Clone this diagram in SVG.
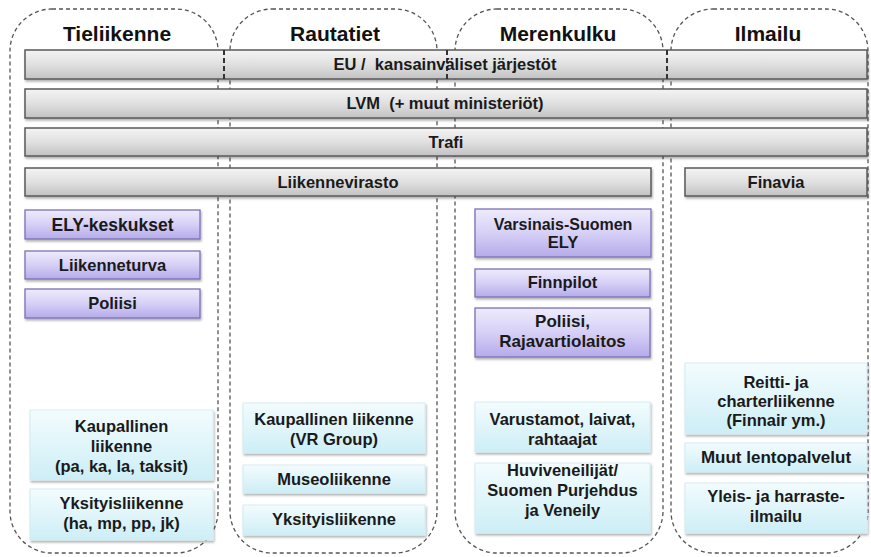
<svg xmlns="http://www.w3.org/2000/svg" width="871" height="557" viewBox="0 0 871 557">
<defs>
  <linearGradient id="gGray" x1="0" y1="0" x2="0" y2="1">
    <stop offset="0" stop-color="#f4f4f4"/>
    <stop offset="0.5" stop-color="#e0e0e0"/>
    <stop offset="1" stop-color="#c2c2c2"/>
  </linearGradient>
  <linearGradient id="gPurple" x1="0" y1="0" x2="0" y2="1">
    <stop offset="0" stop-color="#eeebfc"/>
    <stop offset="0.5" stop-color="#d6d0f6"/>
    <stop offset="1" stop-color="#b5abea"/>
  </linearGradient>
  <linearGradient id="gCyan" x1="0" y1="0" x2="0" y2="1">
    <stop offset="0" stop-color="#f3fcfe"/>
    <stop offset="1" stop-color="#cdeef6"/>
  </linearGradient>
  <filter id="sh" x="-5%" y="-20%" width="110%" height="150%">
    <feDropShadow dx="1" dy="2" stdDeviation="1.2" flood-color="#000" flood-opacity="0.3"/>
  </filter>
</defs>
<style>
  .col { fill: none; stroke: #555; stroke-width: 1.3; stroke-dasharray: 4 3; }
  .bar { fill: url(#gGray); stroke: #585858; stroke-width: 1.5; filter: url(#sh); }
  .pur { fill: url(#gPurple); stroke: #7a70b4; stroke-width: 1.3; filter: url(#sh); }
  .cya { fill: url(#gCyan); stroke: #d4edf2; stroke-width: 1; filter: url(#sh); }
  .hd { font-family: "Liberation Sans", Arial, sans-serif; font-weight: bold; font-size: 21px; fill: #111; text-anchor: middle; }
  .bt { font-family: "Liberation Sans", Arial, sans-serif; font-weight: bold; font-size: 16.5px; fill: #1a1a1a; text-anchor: middle; white-space: pre; }
  .t { font-family: "Liberation Sans", Arial, sans-serif; font-weight: bold; font-size: 16.5px; fill: #1a1a1a; text-anchor: middle; }
  .mark { stroke: #333; stroke-width: 2; stroke-dasharray: 5 3; fill: none; }
</style>
<rect width="871" height="557" fill="#fff"/>

<g id="columns">
  <g id="col-tieliikenne">
    <rect class="col" x="10" y="9" width="208" height="544" rx="42" ry="42"/>
    <text class="hd" x="117" y="41">Tieliikenne</text>
  </g>
  <g id="col-rautatiet">
    <rect class="col" x="230" y="9" width="207" height="544" rx="42" ry="42"/>
    <text class="hd" x="335" y="41">Rautatiet</text>
  </g>
  <g id="col-merenkulku">
    <rect class="col" x="455" y="9" width="208" height="544" rx="42" ry="42"/>
    <text class="hd" x="558" y="41">Merenkulku</text>
  </g>
  <g id="col-ilmailu">
    <rect class="col" x="671" y="9" width="197" height="544" rx="42" ry="42"/>
    <text class="hd" x="768" y="41">Ilmailu</text>
  </g>
</g>

<g id="bar-eu">
  <rect class="bar" x="25" y="50" width="842" height="29"/>
  <path class="mark" d="M224 50V79 M447 50V79 M667 50V79"/>
  <text class="bt" x="445" y="70" xml:space="preserve">EU /  kansainväliset järjestöt</text>
</g>
<g id="bar-lvm">
  <rect class="bar" x="25" y="89" width="842" height="29"/>
  <text class="bt" x="445" y="109" xml:space="preserve">LVM  (+ muut ministeriöt)</text>
</g>
<g id="bar-trafi">
  <rect class="bar" x="25" y="128" width="842" height="28"/>
  <text class="bt" x="446" y="148">Trafi</text>
</g>
<g id="bar-liikennevirasto">
  <rect class="bar" x="25" y="168" width="626" height="28"/>
  <text class="bt" x="338" y="188">Liikennevirasto</text>
</g>
<g id="bar-finavia">
  <rect class="bar" x="685" y="168" width="182" height="28"/>
  <text class="bt" x="776" y="188">Finavia</text>
</g>

<g id="ely-keskukset">
  <rect class="pur" x="25" y="210" width="175" height="29"/>
  <text class="t" x="112.5" y="231" style="font-size:17.5px">ELY-keskukset</text>
</g>
<g id="liikenneturva">
  <rect class="pur" x="25" y="251" width="175" height="28"/>
  <text class="t" x="112.5" y="271">Liikenneturva</text>
</g>
<g id="poliisi-1">
  <rect class="pur" x="25" y="289" width="175" height="29"/>
  <text class="t" x="112.5" y="309">Poliisi</text>
</g>

<g id="varsinais-suomen-ely">
  <rect class="pur" x="475" y="209" width="176" height="48"/>
  <text class="t" x="563" y="230" style="font-size:16px">Varsinais-Suomen</text>
  <text class="t" x="563" y="248">ELY</text>
</g>
<g id="finnpilot">
  <rect class="pur" x="475" y="269" width="175" height="28"/>
  <text class="t" x="562.5" y="288">Finnpilot</text>
</g>
<g id="poliisi-raja">
  <rect class="pur" x="475" y="308" width="175" height="49"/>
  <text class="t" x="562.5" y="327" style="font-size:17px">Poliisi,</text>
  <text class="t" x="562.5" y="347" style="font-size:17px">Rajavartiolaitos</text>
</g>

<g id="kaupallinen-tie">
  <rect class="cya" x="30" y="410" width="183" height="70"/>
  <text class="t" x="121.5" y="432">Kaupallinen</text>
  <text class="t" x="121.5" y="452">liikenne</text>
  <text class="t" x="121.5" y="472">(pa, ka, la, taksit)</text>
</g>
<g id="yksityis-tie">
  <rect class="cya" x="30" y="489" width="183" height="51"/>
  <text class="t" x="121.5" y="509">Yksityisliikenne</text>
  <text class="t" x="121.5" y="529">(ha, mp, pp, jk)</text>
</g>

<g id="kaupallinen-rata">
  <rect class="cya" x="243" y="403" width="182" height="50"/>
  <text class="t" x="334" y="425">Kaupallinen liikenne</text>
  <text class="t" x="334" y="445">(VR Group)</text>
</g>
<g id="museoliikenne">
  <rect class="cya" x="243" y="465" width="182" height="28"/>
  <text class="t" x="334" y="485">Museoliikenne</text>
</g>
<g id="yksityis-rata">
  <rect class="cya" x="243" y="505" width="182" height="30"/>
  <text class="t" x="334" y="525">Yksityisliikenne</text>
</g>

<g id="varustamot">
  <rect class="cya" x="475" y="402" width="175" height="50"/>
  <text class="t" x="562.5" y="425">Varustamot, laivat,</text>
  <text class="t" x="562.5" y="445">rahtaajat</text>
</g>
<g id="huviveneilijat">
  <rect class="cya" x="475" y="463" width="175" height="70"/>
  <text class="t" x="562.5" y="476">Huviveneilijät/</text>
  <text class="t" x="562.5" y="496">Suomen Purjehdus</text>
  <text class="t" x="562.5" y="516">ja Veneily</text>
</g>

<g id="reitti">
  <rect class="cya" x="685" y="363" width="182" height="71"/>
  <text class="t" x="776" y="388">Reitti- ja</text>
  <text class="t" x="776" y="407">charterliikenne</text>
  <text class="t" x="776" y="426">(Finnair ym.)</text>
</g>
<g id="muut-lentopalvelut">
  <rect class="cya" x="685" y="443" width="182" height="29"/>
  <text class="t" x="776" y="463" style="font-size:17px">Muut lentopalvelut</text>
</g>
<g id="yleis-harraste">
  <rect class="cya" x="685" y="483" width="182" height="50"/>
  <text class="t" x="776" y="502">Yleis- ja harraste-</text>
  <text class="t" x="776" y="522">ilmailu</text>
</g>
</svg>
